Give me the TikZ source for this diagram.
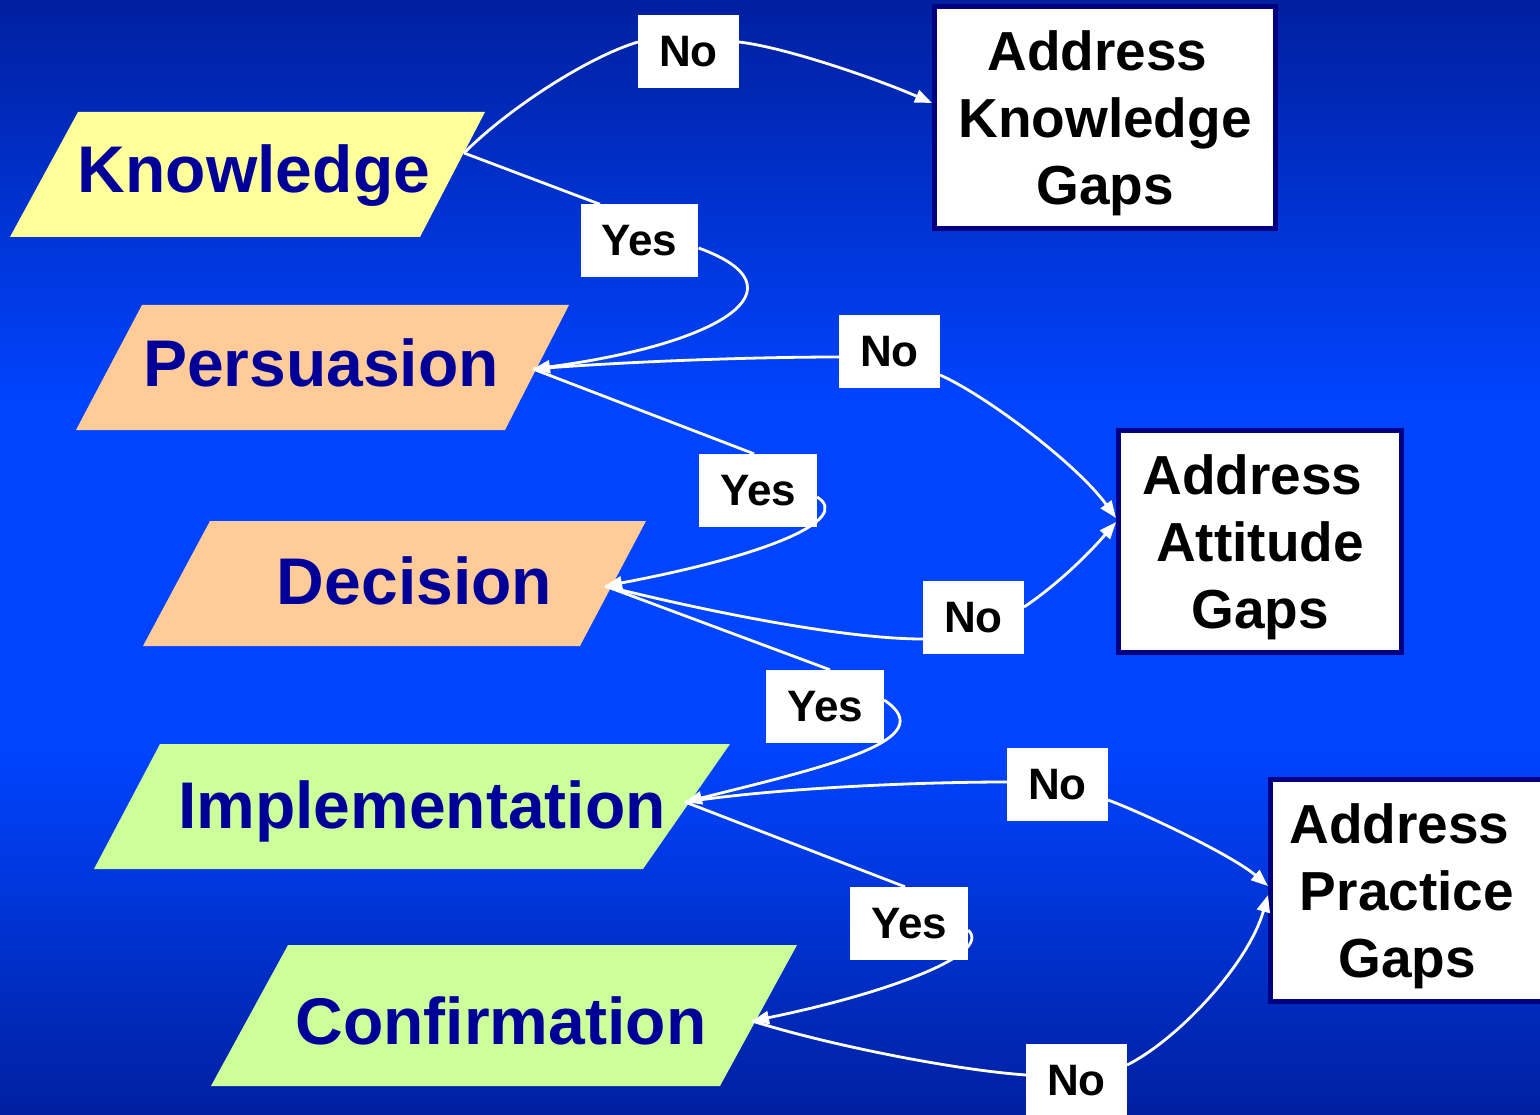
\documentclass[tikz,border=0pt]{standalone}
\usepackage{fontspec}
\setmainfont{Liberation Sans}
\usetikzlibrary{arrows.meta}

\definecolor{navy}{RGB}{0,0,153}
\definecolor{gapline}{RGB}{0,0,128}
\definecolor{knowfill}{RGB}{255,255,153}
\definecolor{attfill}{RGB}{255,204,153}
\definecolor{pracfill}{RGB}{204,255,153}

\begin{document}
\begin{tikzpicture}[x=1pt,y=-1pt,
		stage/.style={anchor=base,text=navy,font=\fontsize{66}{66}\selectfont\bfseries},
		gap/.style={draw=gapline,line width=5pt,fill=white,align=center,text depth=0pt,font=\fontsize{55}{67}\selectfont\bfseries},
		ans/.style={fill=white,inner xsep=21pt,inner ysep=0pt,minimum height=73pt,font=\fontsize{44}{44}\selectfont\bfseries},
		flow/.style={draw=white,line width=2.8pt},
		flowarr/.style={flow,-{Triangle[length=17pt,width=13pt]}}]
	\useasboundingbox (0,0) rectangle (1540,1115);
	\clip (0,0) rectangle (1540,1115);
	% background gradient, dark at top and bottom
	\foreach \y in {0,5,...,1110} {
		\pgfmathsetmacro\f{\y<400 ? \y/400 : (\y<750 ? 1 : (1115-\y)/365)}
		\pgfmathtruncatemacro\g{32+36*\f}
		\pgfmathtruncatemacro\b{160+95*\f}
		\definecolor{strip}{RGB}{0,\g,\b}
		\fill[strip] (0,\y) rectangle (1540,\y+6);
	}

	% stages
	\fill[knowfill] (78,112) -- (485,112) -- (420,237) -- (10,237) -- cycle;
	\fill[attfill] (142,305) -- (569,305) -- (505,430) -- (76,430) -- cycle;
	\fill[attfill] (210,521) -- (646,521) -- (580,646) -- (143,646) -- cycle;
	\fill[pracfill] (160,744) -- (730,744) -- (643,869) -- (94,869) -- cycle;
	\fill[pracfill] (288,945) -- (797,945) -- (720,1086) -- (211,1086) -- cycle;

	\node[stage]	(know)	at (254,193)	{Knowledge};
	\node[stage]	(pers)	at (321,387)	{Persuasion};
	\node[stage]	(deci)	at (414.5,604)	{Decision};
	\node[stage]	(impl)	at (422,828)	{Implementation};
	\node[stage]	(conf)	at (501,1044)	{Confirmation};

	\coordinate (knowhub)	at (464,153);
	\coordinate (pershub)	at (533,369);
	\coordinate (decihub)	at (605,586);
	\coordinate (implhub)	at (685,802);
	\coordinate (confhub)	at (752,1021);

	% gaps
	\node[gap,minimum width=341pt,minimum height=222pt]	(knowgap)	at (1105,117.5)	{Address\kern15pt\\Knowledge\\Gaps};
	\node[gap,minimum width=283pt,minimum height=222pt]	(attgap)	at (1260,541.5)	{Address\kern15pt\\Attitude\\Gaps};
	\node[gap,minimum width=273pt,minimum height=222pt]	(pracgap)	at (1407,890.5)	{Address\kern15pt\\Practice\\Gaps};

	% answers
	\node[ans]	(no1)	at (688.5,51.5)		{No};
	\node[ans]	(yes1)	at (639.5,241)		{Yes};
	\node[ans]	(no2)	at (889.5,351.5)	{No};
	\node[ans]	(yes2)	at (758,490.5)		{Yes};
	\node[ans]	(no3)	at (973.5,617.5)	{No};
	\node[ans]	(yes3)	at (825,706.5)		{Yes};
	\node[ans]	(no4)	at (1057.5,784.5)	{No};
	\node[ans]	(yes4)	at (909,923.5)		{Yes};
	\node[ans]	(no5)	at (1076.5,1080.5)	{No};

	\draw[flow] (knowhub) .. controls +(45,-45) and +(-50,15) .. ([yshift=9.5pt]no1.west);
	\draw[flowarr] ([yshift=9.5pt]no1.east) .. controls +(50,6) and +(-50,-22) .. ([yshift=14.5pt]knowgap.west);
	\draw[flow] (knowhub) -- ([xshift=-39.5pt]yes1.north);
	\draw[flowarr] ([yshift=-7pt]yes1.east) .. controls +(110,40) and +(189,-25) .. (pershub);

	\draw[flow] (pershub) .. controls +(100,-8) and +(-80,0) .. ([yshift=-5.5pt]no2.west);
	\draw[flowarr] ([yshift=-23.5pt]no2.east) .. controls +(45,20) and +(-40,-55) .. ([yshift=23.5pt]attgap.west);
	\draw[flow] (pershub) -- ([xshift=-4pt]yes2.north);
	\draw[flowarr] ([yshift=-6.5pt]yes2.east) .. controls +(35,22) and +(165,-31) .. (decihub);

	\draw[flow] (decihub) .. controls +(100,25) and +(-80,0) .. ([yshift=-21.5pt]no3.west);
	\draw[flowarr] ([yshift=10.5pt]no3.east) .. controls +(30,-20) and +(-30,35) .. ([yshift=19.5pt]attgap.west);
	\draw[flow] (decihub) -- ([xshift=5pt]yes3.north);
	\draw[flowarr] ([yshift=6.5pt]yes3.east) .. controls +(60,40) and +(140,-35) .. (implhub);

	\draw[flow] (implhub) .. controls +(100,-15) and +(-80,0) .. ([yshift=2.5pt]no4.west);
	\draw[flowarr] ([yshift=-15.5pt]no4.east) .. controls +(40,15) and +(-35,-30) .. ([yshift=4.5pt]pracgap.west);
	\draw[flow] (implhub) -- ([xshift=-4pt]yes4.north);
	\draw[flowarr] ([yshift=-6.5pt]yes4.east) .. controls +(26,25) and +(128,-26) .. (confhub);

	\draw[flow] (confhub) .. controls +(80,25) and +(-70,-5) .. ([yshift=5.5pt]no5.west);
	\draw[flowarr] ([yshift=15.5pt]no5.east) .. controls +(50,-25) and +(-20,70) .. ([yshift=-4.5pt]pracgap.west);
\end{tikzpicture}
\end{document}
